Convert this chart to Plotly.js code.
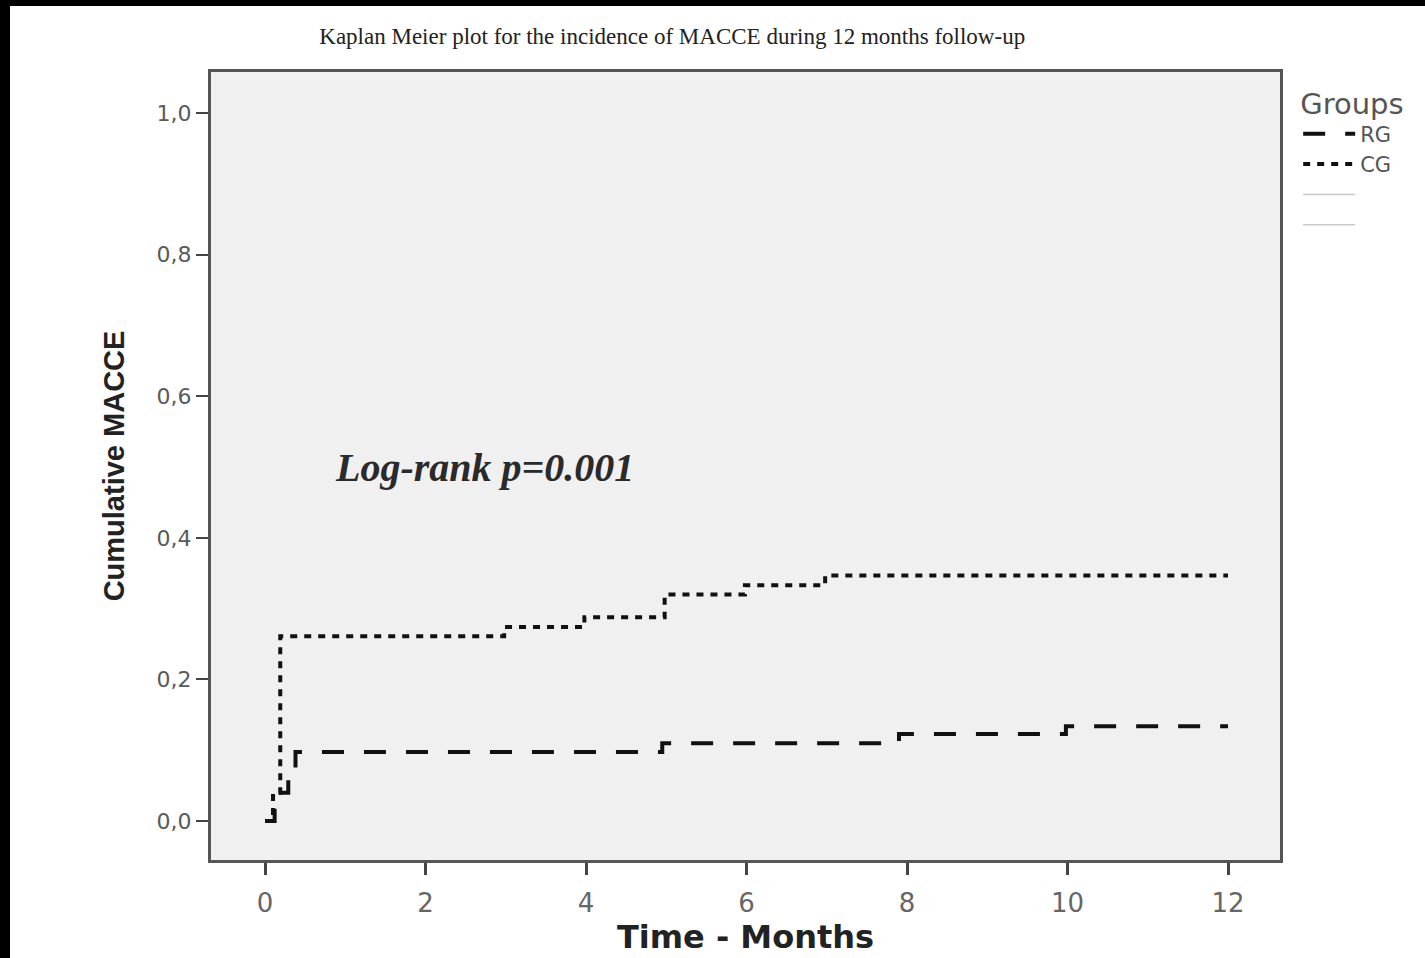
<!DOCTYPE html>
<html>
<head>
<meta charset="utf-8">
<script src="https://cdn.plot.ly/plotly-3.0.1.min.js"></script>
<style>
  html, body { margin: 0; padding: 0; background: #000; width: 1425px; height: 958px; overflow: hidden; }
  #chart { position: absolute; left: 10px; top: 6px; width: 1415px; height: 952px; background: #fff; }
</style>
</head>
<body>
<div id="chart"></div>
<script>
// Kaplan-Meier cumulative MACCE
const groupNames = ["RG", "CG"];
const rgTime = [0, 0.12, 0.29, 0.38, 4.95, 7.9, 9.98, 12];
const rgCum  = [0, 0.04, 0.07, 0.0975, 0.11, 0.123, 0.134, 0.134];
const cgTime = [0, 0.1, 0.19, 2.98, 3.98, 4.98, 5.98, 6.98, 12];
const cgCum  = [0, 0.04, 0.261, 0.274, 0.288, 0.32, 0.333, 0.347, 0.347];
const xTicks = [0, 2, 4, 6, 8, 10, 12];
const yTicks = [0, 0.2, 0.4, 0.6, 0.8, 1.0];

const traces = [
  { x: rgTime, y: rgCum, name: groupNames[0], mode: "lines", line: { shape: "hv", color: "#111", width: 4, dash: "22px,20px" } },
  { x: cgTime, y: cgCum, name: groupNames[1], mode: "lines", line: { shape: "hv", color: "#111", width: 4, dash: "7px,7px" } },
  { x: [null], y: [null], name: " ", mode: "lines", line: { color: "#c8c8c8", width: 1.5 }, hoverinfo: "skip" },
  { x: [null], y: [null], name: "  ", mode: "lines", line: { color: "#c8c8c8", width: 1.5 }, hoverinfo: "skip" }
];

const layout = {
  width: 1415, height: 952,
  margin: { l: 201, r: 145, t: 66, b: 98 },
  paper_bgcolor: "#ffffff",
  plot_bgcolor: "#f0f0f0",
  separators: ",.",
  showlegend: true,
  title: {
    text: "Kaplan Meier plot for the incidence of MACCE during 12 months follow-up",
    font: { family: "Liberation Serif", size: 23, color: "#222" },
    xref: "container", yref: "container", x: 0.468, y: 0.9685, xanchor: "center", yanchor: "middle"
  },
  xaxis: {
    range: [-0.673, 12.648], tickvals: xTicks, ticktext: xTicks.map(String),
    showgrid: false, zeroline: false, showline: true, mirror: true, linecolor: "#555", linewidth: 3,
    ticks: "outside", ticklen: 12, tickwidth: 3, tickcolor: "#444",
    ticklabelstandoff: 6,
    tickfont: { family: "DejaVu Sans", size: 26, color: "#666" },
    title: { text: "<b>Time - Months</b>", font: { family: "DejaVu Sans", size: 32, color: "#222" }, standoff: 0 }
  },
  yaxis: {
    range: [-0.055, 1.058], tickvals: yTicks, tickformat: ".1f",
    showgrid: false, zeroline: false, showline: true, mirror: true, linecolor: "#555", linewidth: 3,
    ticks: "outside", ticklen: 12, tickwidth: 2, tickcolor: "#444",
    tickfont: { family: "DejaVu Sans", size: 22, color: "#5a5a5a" },
    title: { text: "<b>Cumulative MACCE</b>", font: { family: "Liberation Sans", size: 29, color: "#222" }, standoff: 24 }
  },
  legend: {
    x: 1.017, y: 0.995, xanchor: "left", yanchor: "top",
    bgcolor: "rgba(0,0,0,0)",
    title: { text: "Groups", font: { family: "DejaVu Sans", size: 29, color: "#555" } },
    font: { family: "DejaVu Sans", size: 21, color: "#555" },
    tracegroupgap: 0, itemwidth: 52
  },
  annotations: [{
    x: 2.74, y: 0.499, xref: "x", yref: "y", showarrow: false,
    text: "<b><i>Log-rank p=0.001</i></b>",
    font: { family: "Liberation Serif", size: 40, color: "#2a2a2a" }
  }]
};

Plotly.newPlot("chart", traces, layout, { displayModeBar: false, staticPlot: true });
</script>
</body>
</html>
